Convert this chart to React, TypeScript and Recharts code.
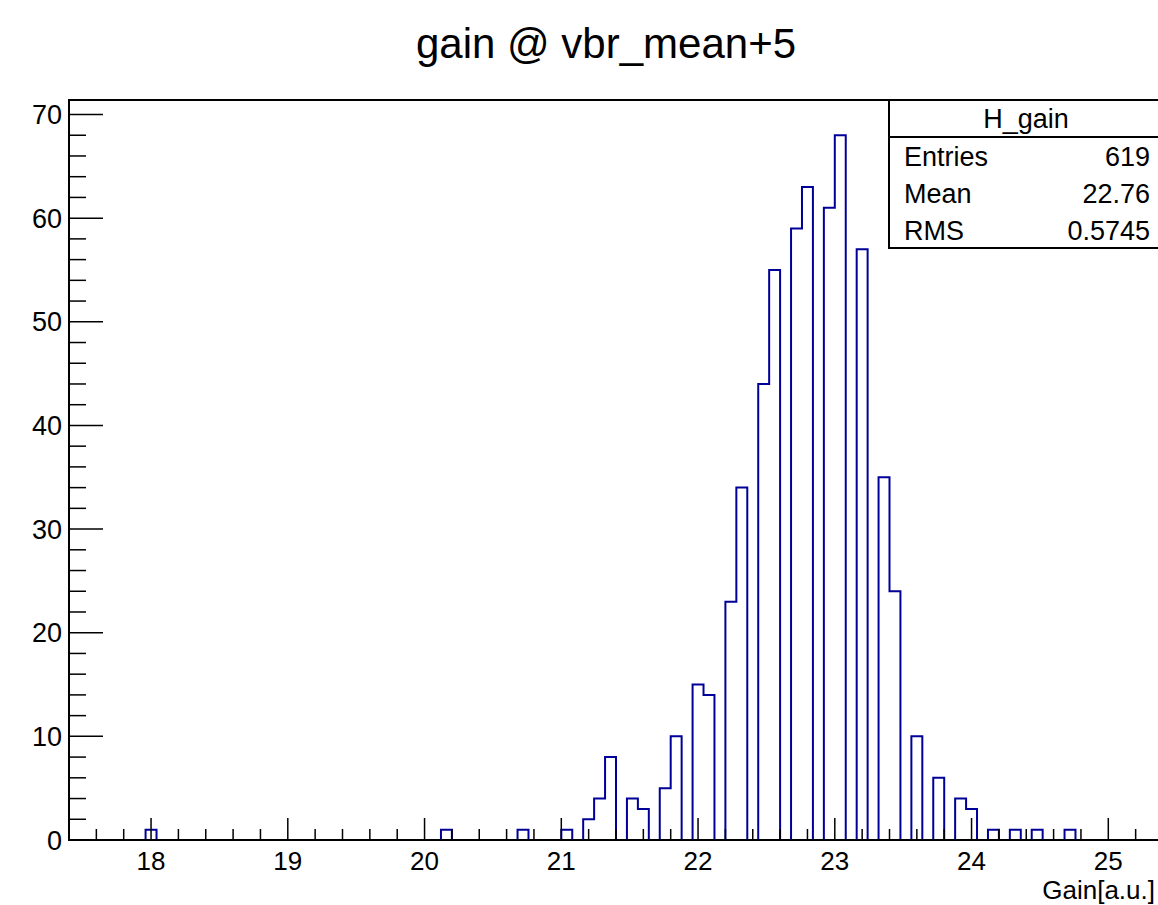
import { Line, LineChart, XAxis, YAxis } from "recharts";

const FONT = "'Liberation Sans', Arial, Helvetica, sans-serif";

// binning of H_gain: 100 bins from 17.4 to 25.4
const X_MIN = 17.4;
const X_MAX = 25.4;
const BIN_WIDTH = 0.08;
const Y_MAX = 71.4;

// bin contents (10 bins per row)
const counts = [
  0, 0, 0, 0, 0, 0, 0, 1, 0, 0,
  0, 0, 0, 0, 0, 0, 0, 0, 0, 0,
  0, 0, 0, 0, 0, 0, 0, 0, 0, 0,
  0, 0, 0, 0, 1, 0, 0, 0, 0, 0,
  0, 1, 0, 0, 0, 1, 0, 2, 4, 8,
  0, 4, 3, 0, 5, 10, 0, 15, 14, 0,
  23, 34, 0, 44, 55, 0, 59, 63, 0, 61,
  68, 0, 57, 0, 35, 24, 0, 10, 0, 6,
  0, 4, 3, 0, 1, 0, 1, 0, 1, 0,
  0, 1, 0, 0, 0, 0, 0, 0, 0, 0,
];

const xMajorTicks = [18, 19, 20, 21, 22, 23, 24, 25];
const yMajorTicks = [0, 10, 20, 30, 40, 50, 60, 70];

const title = "gain @ vbr_mean+5";
const xTitle = "Gain[a.u.]";
const statsName = "H_gain";
const statsLabels = ["Entries", "Mean", "RMS"];
const statsValues = ["619", "22.76", "0.5745"];

const round = (v: number) => Math.round(v * 1000) / 1000;

// step outline: left edge of every bin, plus closing point at the upper edge
const histData = counts
  .map((c, i) => ({ x: round(X_MIN + i * BIN_WIDTH), y: c }))
  .concat([{ x: X_MAX, y: 0 }]);

// minor divisions: 0.2 on x, 2 on y
const xTicks = Array.from({ length: 39 }, (_, i) => round(17.6 + i * 0.2));
const yTicks = Array.from({ length: 36 }, (_, i) => i * 2);

const isMajorX = (v: number) => xMajorTicks.some((m) => Math.abs(m - v) < 1e-6);
const isMajorY = (v: number) => yMajorTicks.includes(v);

function XTick(props: any) {
  const { x, y, payload } = props;
  const major = isMajorX(payload.value);
  return (
    <g>
      <line x1={x} x2={x} y1={y} y2={y - (major ? 22 : 11)} stroke="#000" strokeWidth={1.5} />
      {major && (
        <text x={x} y={y + 30} textAnchor="middle" fontSize={26} fontFamily={FONT} fill="#000">
          {Math.round(payload.value)}
        </text>
      )}
    </g>
  );
}

function YTick(props: any) {
  const { x, y, payload } = props;
  const major = isMajorY(payload.value);
  return (
    <g>
      <line x1={x} x2={x + (major ? 34 : 17)} y1={y} y2={y} stroke="#000" strokeWidth={1.5} />
      {major && (
        <text x={x - 7} y={y + 9.5} textAnchor="end" fontSize={27} fontFamily={FONT} fill="#000">
          {payload.value}
        </text>
      )}
    </g>
  );
}

export default function App() {
  return (
    <div
      style={{
        position: "absolute",
        left: 0,
        top: 0,
        width: 1158,
        height: 905,
        overflow: "hidden",
        background: "#fff",
      }}
    >
      <LineChart
        width={1170}
        height={905}
        data={histData}
        margin={{ top: 100, right: 7, bottom: 0, left: 0 }}
      >
        <XAxis
          dataKey="x"
          type="number"
          domain={[X_MIN, X_MAX]}
          allowDataOverflow
          ticks={xTicks}
          interval={0}
          tick={XTick}
          tickSize={0}
          tickMargin={0}
          tickLine={false}
          axisLine={false}
          height={65}
        />
        <YAxis
          type="number"
          domain={[0, Y_MAX]}
          allowDataOverflow
          ticks={yTicks}
          interval={0}
          tick={YTick}
          tickSize={0}
          tickMargin={0}
          tickLine={false}
          axisLine={false}
          width={69}
        />
        <Line
          dataKey="y"
          type="stepAfter"
          stroke="#000099"
          strokeWidth={2}
          dot={false}
          activeDot={false}
          isAnimationActive={false}
        />
      </LineChart>

      <svg
        width={1158}
        height={905}
        style={{ position: "absolute", left: 0, top: 0, pointerEvents: "none" }}
      >
        <rect x={69} y={100} width={1094} height={740} fill="none" stroke="#000" strokeWidth={2} />
        <text x={606} y={58} textAnchor="middle" fontSize={42} fontFamily={FONT} fill="#000">
          {title}
        </text>
        <text x={1155} y={899} textAnchor="end" fontSize={26} fontFamily={FONT} fill="#000">
          {xTitle}
        </text>

        <rect x={889} y={100} width={274} height={148} fill="#fff" stroke="#000" strokeWidth={2} />
        <line x1={889} x2={1163} y1={137} y2={137} stroke="#000" strokeWidth={2} />
        <text x={1026} y={128} textAnchor="middle" fontSize={27} fontFamily={FONT} fill="#000">
          {statsName}
        </text>
        {statsLabels.map((lab, i) => (
          <g key={lab}>
            <text x={904} y={166 + i * 37} fontSize={27} fontFamily={FONT} fill="#000">
              {lab}
            </text>
            <text x={1150} y={166 + i * 37} textAnchor="end" fontSize={27} fontFamily={FONT} fill="#000">
              {statsValues[i]}
            </text>
          </g>
        ))}
      </svg>
    </div>
  );
}
